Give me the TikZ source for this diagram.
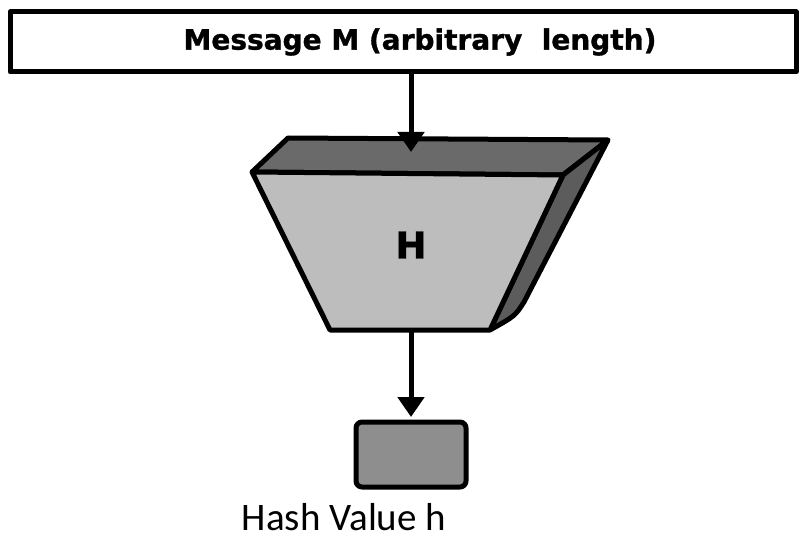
\documentclass[tikz,border=0pt]{standalone}
\usepackage{fontspec}
\setmainfont{Carlito}
\newfontfamily\boldsans{DejaVu Sans}[BoldFeatures={FakeBold=1.2}]
\usetikzlibrary{arrows.meta}
\definecolor{frontgray}{HTML}{BDBDBD}
\definecolor{topgray}{HTML}{6A6A6A}
\definecolor{sidegray}{HTML}{5C5C5C}
\definecolor{outgray}{HTML}{8E8E8E}
\tikzset{
  outline/.style={draw=black, line width=5pt, line join=round},
  arr/.style={line width=5pt, -{Triangle[width=26pt,length=20pt]}},
}
\begin{document}
\begin{tikzpicture}[x=1pt,y=1pt]
\useasboundingbox (0,0) rectangle (803,542);
% message box
\node[outline, fill=white, minimum width=786pt, minimum height=60pt, inner sep=0pt] (msg) at (403,500) {};
\node[font=\boldsans\bfseries\fontsize{28}{32}\selectfont, inner sep=0pt] (msgtext) at (420,500)
      {Message M (arbitrary\ \ length)};
% hash function block (3D trapezoid)
\coordinate (A) at (288,404);
\coordinate (B) at (608,402);
\coordinate (C) at (252,370);
\coordinate (D) at (563,367);
\coordinate (E) at (490,212);
\coordinate (F) at (330,212);
\coordinate (G) at (524,240);
\path[outline, fill=topgray] (A) -- (B) -- (D) -- (C) -- cycle;
\path[outline, fill=sidegray] (D) -- (B) -- (G) .. controls (515,226) .. (E) -- cycle;
\path[outline, fill=frontgray] (C) -- (D) -- (E) -- (F) -- cycle;
\node[font=\boldsans\bfseries\fontsize{37}{40}\selectfont, inner sep=0pt] (H) at (411,297) {H};
\coordinate (htop) at (411,390);
\coordinate (hbot) at (411,212);
% output box
\node[outline, fill=outgray, rounded corners=6pt, minimum width=110pt, minimum height=65pt, inner sep=0pt] (out) at (411,87.5) {};
\node[font=\fontsize{39}{44}\selectfont, anchor=base, inner sep=0pt] (lbl) at (344,12) {Hash Value h};
% arrows
\draw[arr] (msg.south -| htop) -- (htop);
\draw[arr] (hbot) -- ([yshift=2.5pt]out.north);
\end{tikzpicture}
\end{document}
